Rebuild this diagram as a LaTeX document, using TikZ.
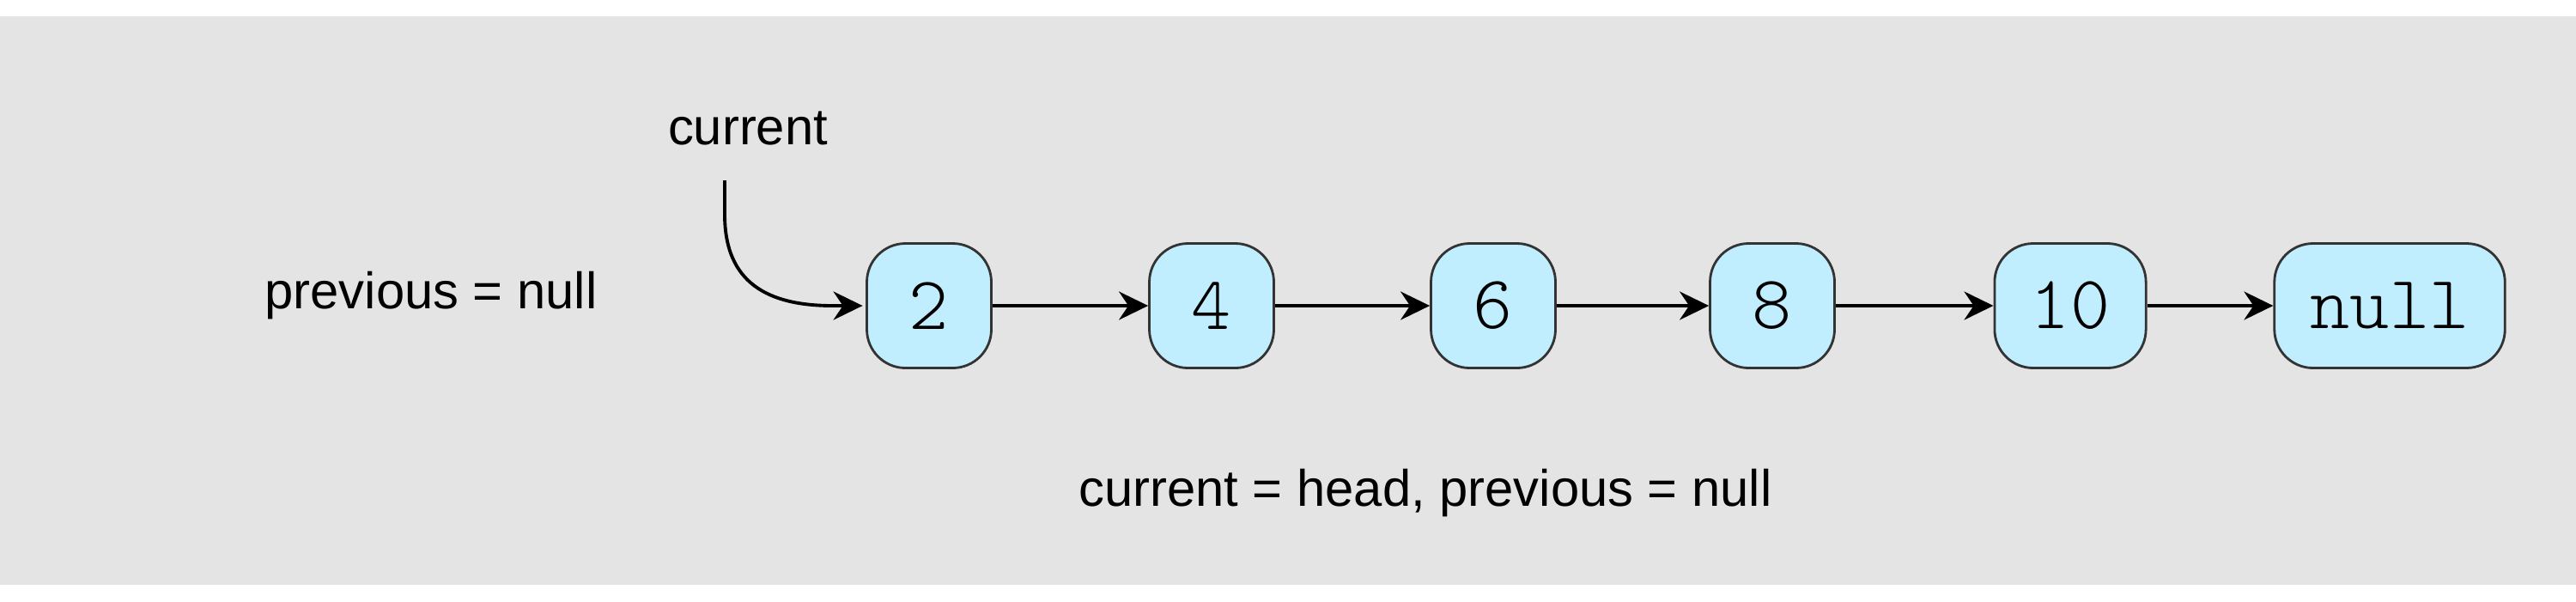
\documentclass[tikz,border=0pt]{standalone}
\usepackage{fontspec}
\setmainfont{Liberation Sans}
\newfontfamily\nodefont{Latin Modern Mono Light}
\usetikzlibrary{arrows.meta}

\definecolor{bggray}{RGB}{228,228,228}
\definecolor{nodeblue}{RGB}{192,238,255}
\definecolor{nodeline}{RGB}{51,51,51}

\begin{document}
\begin{tikzpicture}[align=center,
    elem/.style={draw=nodeline, fill=nodeblue, line width=0.8pt,
      rounded corners=0.45cm, minimum width=1.45cm, minimum height=1.45cm,
      inner xsep=0.42cm, font=\nodefont\fontsize{25}{25}\selectfont},
    lbl/.style={font=\fontsize{17}{17}\selectfont}]
  \def \y {3.44}
  \fill[bggray] (0,0.19) rectangle (30,6.81);
  \useasboundingbox (0,0) rectangle (30,7);

  \node[elem] (n2) at (10.82,\y) {2};
  \node[elem] (n4) at (14.11,\y) {4};
  \node[elem] (n6) at (17.39,\y) {6};
  \node[elem] (n8) at (20.64,\y) {8};
  \node[elem] (n10) at (24.11,\y) {10};
  \node[elem] (nnull) at (27.83,\y) {null};

  \node[lbl] (current) at (8.71,5.51) {current};
  \node[lbl] (previous) at (5.02,3.56) {previous = null};
  \node[lbl] (caption) at (16.6,1.26) {current = head, previous = null};

  \coordinate (curstart) at (8.44,4.90);
  \draw[->, >={Stealth[length=3.4mm,width=3.3mm]}, line width=1.1pt, shorten >=1pt]
    (curstart) -- (8.44,4.50) .. controls (8.44,3.70) and (8.95,3.44) ..
    (9.70,\y) -- (n2.west);

  \draw[->, >={Stealth[length=3.4mm,width=3.3mm]}, line width=1.1pt] (n2) -- (n4);
  \draw[->, >={Stealth[length=3.4mm,width=3.3mm]}, line width=1.1pt] (n4) -- (n6);
  \draw[->, >={Stealth[length=3.4mm,width=3.3mm]}, line width=1.1pt] (n6) -- (n8);
  \draw[->, >={Stealth[length=3.4mm,width=3.3mm]}, line width=1.1pt] (n8) -- (n10);
  \draw[->, >={Stealth[length=3.4mm,width=3.3mm]}, line width=1.1pt] (n10) -- (nnull);

\end{tikzpicture}
\end{document}
